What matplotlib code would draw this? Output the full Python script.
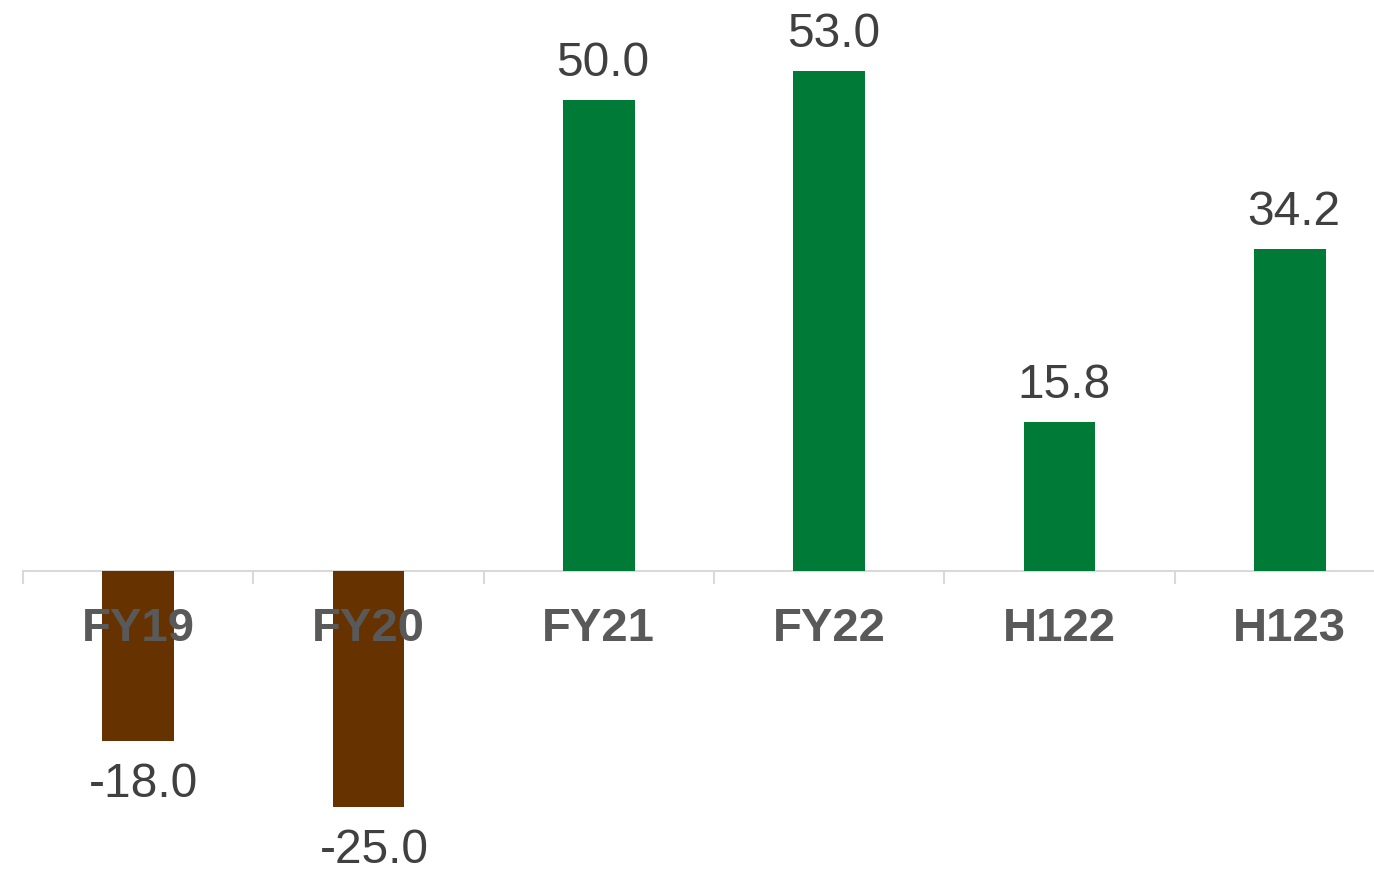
import matplotlib.pyplot as plt
import numpy as np

# data
categories = ["FY19", "FY20", "FY21", "FY22", "H122", "H123"]
values = [-18.0, -25.0, 50.0, 53.0, 15.8, 34.2]

pos_color = '#007A37'
neg_color = '#663300'
axis_color = '#D9D9D9'
label_color = '#595959'
value_color = '#404040'

plt.rcParams['font.family'] = ['Liberation Sans', 'DejaVu Sans']

fig = plt.figure(figsize=(13.74, 8.72), dpi=100)
ax = fig.add_axes([23 / 1374, 0, 1382 / 1374, 1])

x = np.arange(len(categories))
colors = [pos_color if v >= 0 else neg_color for v in values]
ax.bar(x, values, width=0.31, color=colors, zorder=1)

ax.set_xlim(-0.5, len(categories) - 0.5)
ax.set_ylim(-31.9, 60.55)

for sp in ['top', 'right', 'left']:
    ax.spines[sp].set_visible(False)
ax.spines['bottom'].set_position(('data', 0))
ax.spines['bottom'].set_color(axis_color)
ax.spines['bottom'].set_linewidth(1.5)
ax.spines['bottom'].set_zorder(0.5)

ax.set_yticks([])
ax.set_xticks(np.arange(-0.5, len(categories), 1.0))
ax.set_xticklabels([])
ax.tick_params(axis='x', which='major', length=9, width=1.5, color=axis_color, direction='out')
ax.set_xticks(x, minor=True)
ax.set_xticklabels(categories, minor=True)
ax.tick_params(axis='x', which='minor', length=0, pad=26, labelsize=34, labelcolor=label_color)
for lbl in ax.get_xticklabels(minor=True):
    lbl.set_fontweight('bold')

for xi, v in zip(x, values):
    if v >= 0:
        ax.annotate(f"{v:.1f}", (xi, v), xytext=(3, 10), textcoords='offset points',
                    ha='center', va='bottom', fontsize=34.5, color=value_color)
    else:
        ax.annotate(f"{v:.1f}", (xi, v), xytext=(4, -15), textcoords='offset points',
                    ha='center', va='top', fontsize=34.5, color=value_color)

fig.savefig('out.png', dpi=100)
